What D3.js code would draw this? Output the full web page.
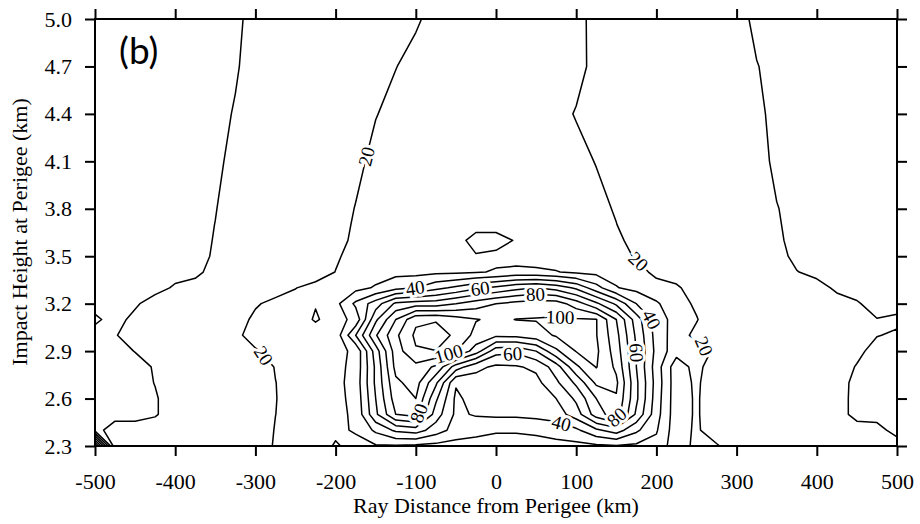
<!DOCTYPE html>
<html>
<head>
<meta charset="utf-8">
<script src="https://cdnjs.cloudflare.com/ajax/libs/d3/7.8.5/d3.min.js"></script>
<style>
  body { margin: 0; background: #fff; }
  text { font-family: "Liberation Serif", "Times New Roman", serif; }
</style>
</head>
<body>
<svg id="chart" width="920" height="524"></svg>
<script>
// grid columns (km from perigee) and rows (impact height, km)
const gridX = [-500,-475,-450,-425,-400,-375,-350,-325,-300,-275,-250,-225,-200,-175,-150,-125,-100,-75,-50,-25,
  0,25,50,75,100,125,150,175,200,225,250,275,300,325,350,375,400,425,450,475,500];
const gridY = [2.3,2.4,2.5,2.6,2.7,2.8,2.9,3.0,3.1,3.2,3.3,3.4,3.5,3.6,3.7,3.8,4.1,4.4,4.7,5.0];

// values, one row per height (bottom to top)
const values = [
  [95,12,12,12,12,12,12,12,12,21.5,25, 25,31,27,29,29,28,27,26,26,26,26,26,27,27,28,29,28,27,14,22.8, 21.5,12,12,12,12,12,12,12,12,12],
  [26,12,12,12,12,12,12,12,12,20.7,25, 25,28,31,42,52,55,45,36,33,31,31,32,34,38,48,55,42,31,14,22, 12,12,12,12,12,12,12,12,14.5,26],
  [26,26,26,21.5,12,12,12,12,12,19.9,25, 25,27,32,58,80,84,55,38,41,42,42,43,45,55,75,86,58,34,14,21.5, 12,12,12,12,12,12,12,26,26,26],
  [26,26,26,21.5,12,12,12,12,12,19.6,25, 25,27,33,60,85,90,62,38,44,45,45,46,50,62,80,89,62,35,14,21.5, 12,12,12,12,12,12,12,26,26,26],
  [26,26,26,19.5,12,12,12,12,12,19.8,25, 25,27,34,62,88,94,72,41,45,46,46,47,58,72,92,92,62,36,14,22, 12,12,12,12,12,12,12,25.3,26,26],
  [26,26,26,18.5,12,12,12,12,12,20.7,25, 25,27,33,62,93,97,88,65,53,48,49,52,65,88,100.5,88,60,35,14,23.8, 12,12,12,12,12,12,12,21.1,26,26],
  [26,26,19.5,12,12,12,12,12,18.75,25,25, 25,27,32,65,95,109,109.8,100.5,85,64,62,70,88,100.5,102,85,60,37,24,25, 18,12,12,12,12,12,12,16,26,26],
  [26,21.1,12,12,12,12,12,17.2,25,25,25, 25,24,50,79,98,112,115,108,97,92,93,96,101,103,100.5,83,58,36,25,17.2, 12,12,12,12,12,12,12,12,19.4,22],
  [17,26,15.3,12,12,12,12,12,23.8,25,25, 31,26,33,68,90,108,109,104,100.5,98,100.2,100.5,101,101,100.5,80,55,35,26,20.7, 12,12,12,12,12,12,12,12,19.5,17],
  [26,26,22.5,12,12,12,12,12,18,25,25, 29.5,27,42,55,72,75,75,80,85,90,93,95,95,85,72,58,40,31,25,18, 12,12,12,12,12,12,12,18.5,26,26],
  [26,26,26,26,17.7,12,12,12,12,12,19.6, 25,26,27,31,37,40,47,52,58,62,67,70,66,58,44,30.5,27,25,22.5,12, 12,12,12,12,12,12,23.8,26,26,26],
  [26,26,26,26,26,25.3,12,12,12,12,12, 12,20.3,25,26,27,27,28,28,29,31,33,32,30.5,28,27,27,25,16.7,12,12, 12,12,12,12,19.2,26,26,26,26,26],
  [26,26,26,26,26,26,17.7,12,12,12,12, 12,18.1,25,25,25,25,25,27,29,27,25,25,25,25,25,25,18.75,12,12,12, 12,12,12,12,26,26,26,26,26,26],
  [26,26,26,26,26,26,18.9,12,12,12,12, 12,12,25,25,25,25,25,25,35,35,29,25,25,25,25,25,12,12,12,12, 12,12,12,16.6,26,26,26,26,26,26],
  [26,26,26,26,26,26,19.75,12,12,12,12, 12,12,22.5,25,25,25,25,25,25,25,25,25,25,25,25,20.3,12,12,12,12, 12,12,12,18.1,26,26,26,26,26,26],
  [26,26,26,26,26,26,20.7,12,12,12,12, 12,12,20.7,25,25,25,25,25,25,25,25,25,25,25,25,18.4,12,12,12,12, 12,12,12,19.2,26,26,26,26,26,26],
  [26,26,26,26,26,26,26,12,12,12,12, 12,12,15.4,25,25,25,25,25,25,25,25,25,25,25,19.3,12,12,12,12,12, 12,12,12,24.5,26,26,26,26,26,26],
  [26,26,26,26,26,26,26,18.5,12,12,12, 12,12,12,19.3,25,25,25,25,25,25,25,25,25,19,12,12,12,12,12,12, 12,12,15.3,26,26,26,26,26,26,26],
  [26,26,26,26,26,26,26,22,12,12,12, 12,12,12,12,19.6,25,25,25,25,25,25,25,25,25,15.4,12,12,12,12,12, 12,12,19.2,26,26,26,26,26,26,26],
  [26,26,26,26,26,26,26,25,12,12,12, 12,12,12,12,12,18,25,25,25,25,25,25,25,25,15,12,12,12,12,12, 12,12,25,26,26,26,26,26,26,26]
];

const levels = [20,30,40,50,60,70,80,90,100,110];
const xTicks = [-500,-400,-300,-200,-100,0,100,200,300,400,500];
const yTicks = [2.3,2.6,2.9,3.2,3.5,3.8,4.1,4.4,4.7,5.0];

// where the labelled contours carry their numbers (approximate spot, km)
const labelLevels = [20, 20, 20, 20, 40, 40, 40, 60, 60, 60, 80, 80, 80, 100, 100];
const labelX = [-161, -288, 176, 262, -101, 82, 208, -20, 21, 176, 49, -98, 151, 80, -61];
const labelY = [4.13, 2.88, 3.46, 2.95, 3.31, 2.45, 3.16, 3.31, 2.86, 2.89, 3.27, 2.51, 2.48, 3.11, 2.91];

const svg = d3.select("#chart");
const x = d3.scaleLinear().domain([-500, 500]).range([95, 897]);
const y = d3.scaleLinear().domain([2.3, 5.0]).range([446, 19]);

// grid index -> data units
const colScale = d3.scaleLinear().domain(gridX.map((d, i) => i)).range(gridX).clamp(true);
const rowScale = d3.scaleLinear().domain(gridY.map((d, i) => i)).range(gridY).clamp(true);
const toPx = p => [x(colScale(p[0] - 0.5)), y(rowScale(p[1] - 0.5))];

const proj = d3.geoTransform({
  point(a, b) { const q = toPx([a, b]); this.stream.point(q[0], q[1]); }
});
const path = d3.geoPath(proj);

const contours = d3.contours()
  .size([gridX.length, gridY.length])
  .thresholds(levels)(values.flat());

svg.append("clipPath").attr("id", "plot")
  .append("rect").attr("x", 95).attr("y", 19).attr("width", 802).attr("height", 427);

const g = svg.append("g").attr("clip-path", "url(#plot)");
g.selectAll("path")
  .data(contours)
  .join("path")
  .attr("d", path)
  .attr("fill", "none")
  .attr("stroke", "#000")
  .attr("stroke-width", 1.5)
  .attr("stroke-linejoin", "round");

// contour labels: snap to nearest point on the line, rotate with it
labelLevels.forEach((lev, k) => {
  const c = contours.find(d => d.value === lev);
  const tx = x(labelX[k]), ty = y(labelY[k]);
  let best = null, bestD = Infinity;
  c.coordinates.forEach(poly => poly.forEach(ring => {
    const pts = ring.map(toPx);
    for (let i = 0; i < pts.length - 1; i++) {
      const p = pts[i], q = pts[i + 1];
      const dx = q[0] - p[0], dy = q[1] - p[1];
      const len2 = dx * dx + dy * dy || 1;
      let t = ((tx - p[0]) * dx + (ty - p[1]) * dy) / len2;
      t = Math.max(0, Math.min(1, t));
      const cx = p[0] + t * dx, cy = p[1] + t * dy;
      const d = (cx - tx) ** 2 + (cy - ty) ** 2;
      if (d < bestD) { bestD = d; best = { pts, i, cx, cy }; }
    }
  }));
  const n = best.pts.length;
  const a = best.pts[Math.max(0, best.i - 1)], b = best.pts[Math.min(n - 1, best.i + 2)];
  let ang = Math.atan2(b[1] - a[1], b[0] - a[0]) * 180 / Math.PI;
  if (ang > 90) ang -= 180;
  if (ang < -90) ang += 180;
  svg.append("text")
    .attr("transform", `translate(${best.cx},${best.cy}) rotate(${ang})`)
    .attr("text-anchor", "middle")
    .attr("dy", "0.34em")
    .attr("font-size", 19)
    .attr("stroke", "#fff")
    .attr("stroke-width", 6)
    .attr("paint-order", "stroke")
    .attr("fill", "#000")
    .text(lev);
});

// axes
const axB = svg.append("g").attr("transform", "translate(0,446)")
  .call(d3.axisBottom(x).tickValues(xTicks).tickSize(10).tickPadding(17).tickSizeOuter(0)
    .tickFormat(d => String(d)));
const axT = svg.append("g").attr("transform", "translate(0,19)")
  .call(d3.axisTop(x).tickValues(xTicks).tickSize(10).tickFormat("").tickSizeOuter(0));
const axL = svg.append("g").attr("transform", "translate(95,0)")
  .call(d3.axisLeft(y).tickValues(yTicks).tickSize(10).tickPadding(13).tickFormat(d => d.toFixed(1)).tickSizeOuter(0));
const axR = svg.append("g").attr("transform", "translate(897,0)")
  .call(d3.axisRight(y).tickValues(yTicks).tickSize(10).tickFormat("").tickSizeOuter(0));

[axB, axT, axL, axR].forEach(ax => {
  ax.select(".domain").remove();
  ax.selectAll(".tick line").attr("stroke", "#000").attr("stroke-width", 2);
  ax.selectAll("text")
    .attr("font-family", "Liberation Serif")
    .attr("font-size", 22)
    .attr("fill", "#000");
});

svg.append("rect")
  .attr("x", 95).attr("y", 19).attr("width", 802).attr("height", 427)
  .attr("fill", "none").attr("stroke", "#000").attr("stroke-width", 2);

svg.append("text")
  .attr("x", 496).attr("y", 513)
  .attr("text-anchor", "middle")
  .attr("font-size", 22)
  .text("Ray Distance from Perigee (km)");

svg.append("text")
  .attr("transform", "translate(27,232) rotate(-90)")
  .attr("text-anchor", "middle")
  .attr("font-size", 22)
  .text("Impact Height at Perigee (km)");

svg.append("text")
  .attr("x", 119).attr("y", 64)
  .style("font-family", "Lato, 'Open Sans', sans-serif")
  .attr("font-size", 37)
  .text("(b)");
</script>
</body>
</html>
